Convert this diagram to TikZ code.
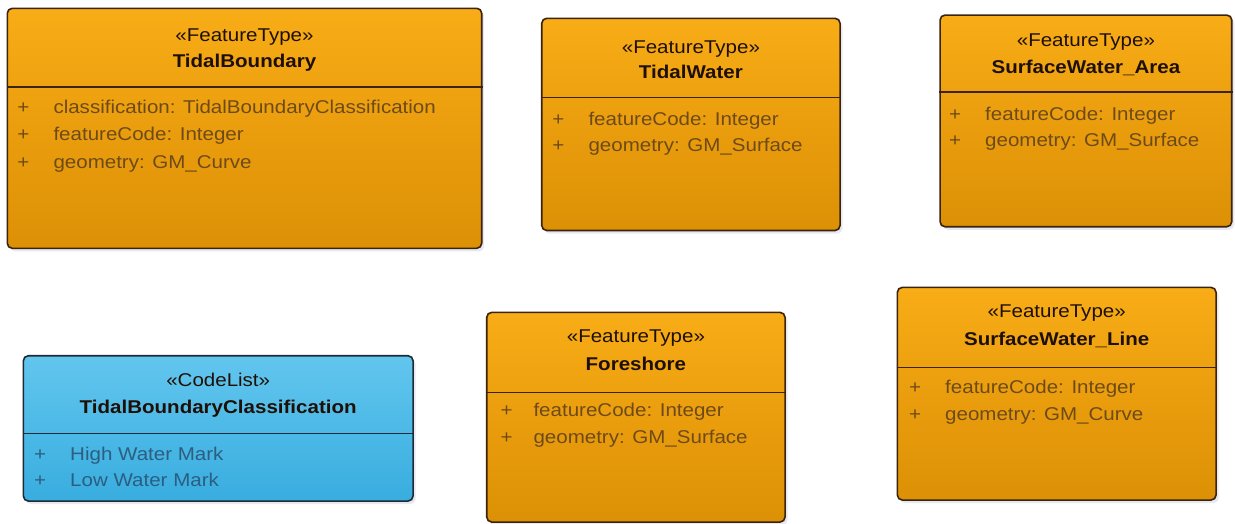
\documentclass[tikz,border=0pt]{standalone}
\usepackage{fontspec}
\setmainfont{Liberation Sans}[FakeStretch=1.11]
\usetikzlibrary{shadows}
\definecolor{orTop}{HTML}{F8AC16}
\definecolor{orBot}{HTML}{DC9005}
\definecolor{blTop}{HTML}{62C6EE}
\definecolor{blBot}{HTML}{38ADDF}
\definecolor{orLine}{HTML}{3A2410}
\definecolor{blLine}{HTML}{1E2A34}
\definecolor{orAttr}{HTML}{6E4A18}
\definecolor{blAttr}{HTML}{2C5E80}
\definecolor{titleC}{HTML}{1E1008}
\tikzset{
  umlbase/.style={rectangle, rounded corners=5pt, line width=1.6pt, inner sep=0pt,
    drop shadow={shadow xshift=2.5pt, shadow yshift=-3pt, opacity=0.22, fill=black!60!blue!40}},
  ftbox/.style={umlbase, draw=orLine, top color=orTop, bottom color=orBot},
  clbox/.style={umlbase, draw=blLine, top color=blTop, bottom color=blBot},
  ordiv/.style={draw=orLine, line width=1.6pt},
  bldiv/.style={draw=blLine, line width=1.6pt},
  stereo/.style={anchor=base, inner sep=0pt, font=\fontsize{18.5}{20}\selectfont, text=titleC},
  cname/.style={anchor=base, inner sep=0pt, font=\fontsize{18.5}{20}\selectfont\bfseries, text=titleC},
  plusmark/.style={anchor=base, inner sep=0pt, font=\fontsize{18.5}{20}\selectfont, text=orAttr},
  attr/.style={anchor=base west, inner sep=0pt, font=\fontsize{18.5}{20}\selectfont, text=orAttr},
  blplus/.style={plusmark, text=blAttr},
  blattr/.style={attr, text=blAttr}
}
\begin{document}
\begin{tikzpicture}[x=1pt,y=-1pt]
\useasboundingbox (0,0) rectangle (1235,523);
\fill[white] (0,0) rectangle (1235,523);

% TidalBoundary
\node[ftbox, minimum width=474.4pt, minimum height=240pt] (tb) at (244.5,128.3) {};
\draw[ordiv] (tb.west |- 0,86.7) -- (tb.east |- 0,86.7);
\node[stereo] (tbS) at (244.5,41) {«FeatureType»};
\node[cname] (tbN) at (244.5,67) {TidalBoundary};
\node[plusmark] (tbP1) at (23.3,113) {+};
\node[attr] (tbA1) at (53.3,113) {classification: TidalBoundaryClassification};
\node[plusmark] (tbP2) at (23.3,140.5) {+};
\node[attr] (tbA2) at (53.3,140.5) {featureCode: Integer};
\node[plusmark] (tbP3) at (23.3,168) {+};
\node[attr] (tbA3) at (53.3,168) {geometry: GM\_Curve};

% TidalWater
\node[ftbox, minimum width=298.3pt, minimum height=212.2pt] (tw) at (690.9,124.4) {};
\draw[ordiv] (tw.west |- 0,97.3) -- (tw.east |- 0,97.3);
\node[stereo] (twS) at (690.9,53.3) {«FeatureType»};
\node[cname] (twN) at (690.9,78.8) {TidalWater};
\node[plusmark] (twP1) at (558.3,125) {+};
\node[attr] (twA1) at (588.3,125) {featureCode: Integer};
\node[plusmark] (twP2) at (558.3,151.7) {+};
\node[attr] (twA2) at (588.3,151.7) {geometry: GM\_Surface};

% SurfaceWater_Area
\node[ftbox, minimum width=291.7pt, minimum height=211.7pt] (swa) at (1085.9,120.9) {};
\draw[ordiv] (swa.west |- 0,91.7) -- (swa.east |- 0,91.7);
\node[stereo] (swaS) at (1085.9,46) {«FeatureType»};
\node[cname] (swaN) at (1085.9,73.3) {SurfaceWater\_Area};
\node[plusmark] (swaP1) at (955,120) {+};
\node[attr] (swaA1) at (985,120) {featureCode: Integer};
\node[plusmark] (swaP2) at (955,146.7) {+};
\node[attr] (swaA2) at (985,146.7) {geometry: GM\_Surface};

% TidalBoundaryClassification
\node[clbox, minimum width=389.7pt, minimum height=145.3pt] (cl) at (218.2,428.4) {};
\draw[bldiv] (cl.west |- 0,433.3) -- (cl.east |- 0,433.3);
\node[stereo] (clS) at (218.2,386.7) {«CodeList»};
\node[cname] (clN) at (218.2,413.3) {TidalBoundaryClassification};
\node[blplus] (clP1) at (40,460) {+};
\node[blattr] (clA1) at (70,460) {High Water Mark};
\node[blplus] (clP2) at (40,486.7) {+};
\node[blattr] (clA2) at (70,486.7) {Low Water Mark};

% Foreshore
\node[ftbox, minimum width=298.3pt, minimum height=209.7pt] (fs) at (635.9,417.2) {};
\draw[ordiv] (fs.west |- 0,392.3) -- (fs.east |- 0,392.3);
\node[stereo] (fsS) at (635.9,342) {«FeatureType»};
\node[cname] (fsN) at (635.9,370) {Foreshore};
\node[plusmark] (fsP1) at (506.7,416.7) {+};
\node[attr] (fsA1) at (533.3,416.7) {featureCode: Integer};
\node[plusmark] (fsP2) at (506.7,443.3) {+};
\node[attr] (fsA2) at (533.3,443.3) {geometry: GM\_Surface};

% SurfaceWater_Line
\node[ftbox, minimum width=318.7pt, minimum height=212.7pt] (swl) at (1056.7,393.7) {};
\draw[ordiv] (swl.west |- 0,367.3) -- (swl.east |- 0,367.3);
\node[stereo] (swlS) at (1056.7,317) {«FeatureType»};
\node[cname] (swlN) at (1056.7,345) {SurfaceWater\_Line};
\node[plusmark] (swlP1) at (915,393.3) {+};
\node[attr] (swlA1) at (945,393.3) {featureCode: Integer};
\node[plusmark] (swlP2) at (915,420) {+};
\node[attr] (swlA2) at (945,420) {geometry: GM\_Curve};
\end{tikzpicture}
\end{document}
